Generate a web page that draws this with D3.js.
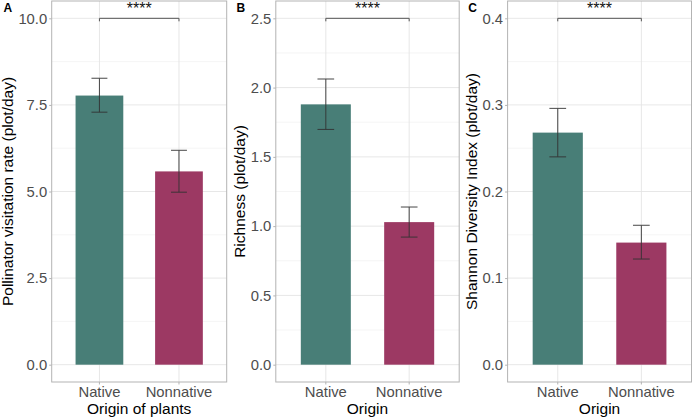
<!DOCTYPE html>
<html>
<head>
<meta charset="utf-8">
<script src="https://cdn.jsdelivr.net/npm/d3@7"></script>
<style>
  body { margin: 0; background: #fff; }
  text { font-family: "Liberation Sans", Arial, sans-serif; }
</style>
</head>
<body>
<div id="chart"></div>
<script>
// data
const categories = ["Native", "Nonnative"];
const barColors = ["#487e77", "#9c3963"];

const visitationMean = [7.77, 5.58];
const visitationLow = [7.29, 4.98];
const visitationHigh = [8.27, 6.19];
const visitationTicks = [0, 2.5, 5, 7.5, 10];

const richnessMean = [1.879, 1.029];
const richnessLow = [1.698, 0.921];
const richnessHigh = [2.062, 1.138];
const richnessTicks = [0, 0.5, 1, 1.5, 2, 2.5];

const shannonMean = [0.268, 0.141];
const shannonLow = [0.240, 0.122];
const shannonHigh = [0.296, 0.161];
const shannonTicks = [0, 0.1, 0.2, 0.3, 0.4];

const panelLabels = ["A", "B", "C"];
const yTitles = ["Pollinator visitation rate (plot/day)", "Richness (plot/day)", "Shannon Diversity Index (plot/day)"];
const xTitles = ["Origin of plants", "Origin", "Origin"];
const sigLabel = "****";

const width = 692;
const height = 418;

const svg = d3.select("#chart")
  .append("svg")
  .attr("width", width)
  .attr("height", height);

// plot-area boxes for each panel (pixels)
const panels = [
  { left: 51.7, right: 226.7, titleX: 13, labelX: 3.5,
    mean: visitationMean, low: visitationLow, high: visitationHigh, ticks: visitationTicks },
  { left: 275.8, right: 459.2, titleX: 245, labelX: 236.5,
    mean: richnessMean, low: richnessLow, high: richnessHigh, ticks: richnessTicks },
  { left: 507.6, right: 691.5, titleX: 477, labelX: 468.3,
    mean: shannonMean, low: shannonLow, high: shannonHigh, ticks: shannonTicks }
];
const plotTop = 1, plotBottom = 382;

panels.forEach(function (p, i) {
  const g = svg.append("g");
  const maxTick = d3.max(p.ticks);
  const pad = maxTick * 0.05;

  const y = d3.scaleLinear().domain([-pad, maxTick + pad]).range([plotBottom, plotTop]);
  const x = d3.scaleBand().domain(categories).range([p.left, p.right])
    .paddingInner(0.4).paddingOuter(0.3);
  const step = x.step();

  // minor grid
  const minor = d3.pairs(p.ticks).map(d => (d[0] + d[1]) / 2);
  g.selectAll(".minor").data(minor).join("line")
    .attr("x1", p.left).attr("x2", p.right)
    .attr("y1", d => y(d)).attr("y2", d => y(d))
    .attr("stroke", "#ebebeb").attr("stroke-width", 0.5);
  // major grid
  g.selectAll(".major").data(p.ticks).join("line")
    .attr("x1", p.left).attr("x2", p.right)
    .attr("y1", d => y(d)).attr("y2", d => y(d))
    .attr("stroke", "#e4e4e4").attr("stroke-width", 0.9);
  g.selectAll(".vgrid").data(categories).join("line")
    .attr("x1", d => x(d) + x.bandwidth() / 2).attr("x2", d => x(d) + x.bandwidth() / 2)
    .attr("y1", plotTop).attr("y2", plotBottom)
    .attr("stroke", "#e4e4e4").attr("stroke-width", 0.9);

  // bars
  g.selectAll(".bar").data(categories).join("rect")
    .attr("x", d => x(d))
    .attr("width", x.bandwidth())
    .attr("y", (d, j) => y(p.mean[j]))
    .attr("height", (d, j) => y(0) - y(p.mean[j]))
    .attr("fill", (d, j) => barColors[j]);

  // error bars
  const cap = step * 0.1;
  const eb = g.selectAll(".eb").data(categories).join("g")
    .attr("stroke", "#333").attr("stroke-width", 1).attr("opacity", 0.9);
  eb.append("line")
    .attr("x1", d => x(d) + x.bandwidth() / 2).attr("x2", d => x(d) + x.bandwidth() / 2)
    .attr("y1", (d, j) => y(p.low[j])).attr("y2", (d, j) => y(p.high[j]));
  eb.append("line")
    .attr("x1", d => x(d) + x.bandwidth() / 2 - cap).attr("x2", d => x(d) + x.bandwidth() / 2 + cap)
    .attr("y1", (d, j) => y(p.high[j])).attr("y2", (d, j) => y(p.high[j]));
  eb.append("line")
    .attr("x1", d => x(d) + x.bandwidth() / 2 - cap).attr("x2", d => x(d) + x.bandwidth() / 2 + cap)
    .attr("y1", (d, j) => y(p.low[j])).attr("y2", (d, j) => y(p.low[j]));

  // significance bracket
  const x1 = x(categories[0]) + x.bandwidth() / 2;
  const x2 = x(categories[1]) + x.bandwidth() / 2;
  const yb = y(maxTick);
  const tip = 3;
  g.append("path")
    .attr("d", `M${x1},${yb + tip}V${yb}H${x2}V${yb + tip}`)
    .attr("fill", "none").attr("stroke", "#555").attr("stroke-width", 1);
  g.append("text")
    .attr("x", (x1 + x2) / 2).attr("y", 13.5)
    .attr("text-anchor", "middle")
    .style("font-size", "16px").attr("fill", "#111")
    .text(sigLabel);

  // panel border
  g.append("rect")
    .attr("x", p.left).attr("y", plotTop)
    .attr("width", p.right - p.left).attr("height", plotBottom - plotTop)
    .attr("fill", "none").attr("stroke", "#b3b3b3").attr("stroke-width", 1);

  // y axis
  const yAxis = g.append("g")
    .attr("transform", `translate(${p.left},0)`)
    .call(d3.axisLeft(y).tickValues(p.ticks).tickFormat(d3.format(".1f")).tickSize(2.5).tickPadding(2));
  yAxis.select(".domain").remove();
  yAxis.selectAll(".tick line").attr("stroke", "#b3b3b3");
  yAxis.selectAll(".tick text")
    .attr("fill", "#4d4d4d")
    .style("font-size", "14.8px")
    .style("font-family", "Liberation Sans, Arial, sans-serif");

  // x axis
  const xAxis = g.append("g")
    .attr("transform", `translate(0,${plotBottom})`)
    .call(d3.axisBottom(x).tickSize(2.5).tickPadding(2));
  xAxis.select(".domain").remove();
  xAxis.selectAll(".tick line").attr("stroke", "#b3b3b3");
  xAxis.selectAll(".tick text")
    .attr("fill", "#4d4d4d")
    .attr("dy", "0.71em")
    .style("font-size", "14.8px")
    .style("font-family", "Liberation Sans, Arial, sans-serif");

  // titles
  g.append("text")
    .attr("x", (p.left + p.right) / 2).attr("y", 413.5)
    .attr("text-anchor", "middle")
    .style("font-size", "15.5px").attr("fill", "#000")
    .text(xTitles[i]);
  g.append("text")
    .attr("transform", `translate(${p.titleX},${(plotTop + plotBottom) / 2}) rotate(-90)`)
    .attr("text-anchor", "middle")
    .style("font-size", "15.5px").attr("fill", "#000")
    .text(yTitles[i]);

  // panel tag
  g.append("text")
    .attr("x", p.labelX).attr("y", 12.3)
    .style("font-size", "12px").style("font-weight", "bold").attr("fill", "#000")
    .text(panelLabels[i]);
});
</script>
</body>
</html>
